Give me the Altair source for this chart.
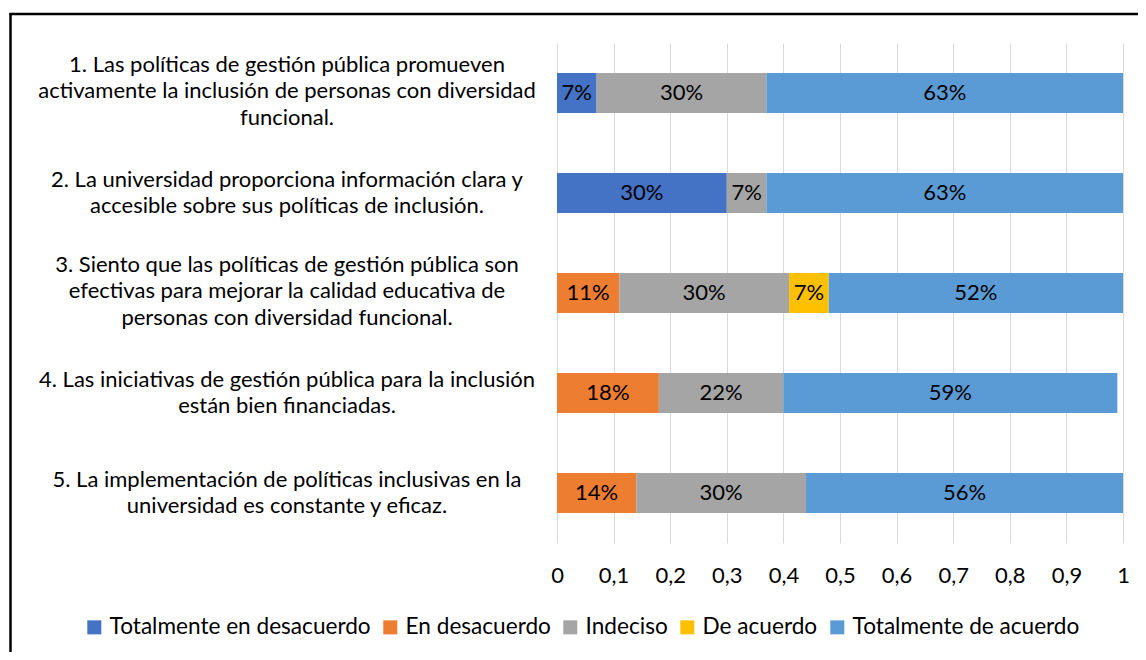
import altair as alt
import pandas as pd

# ---- data ----
preguntas = [
    "1. Las políticas de gestión pública promueven\nactivamente la inclusión de personas con diversidad\nfuncional.",
    "2. La universidad proporciona información clara y\naccesible sobre sus políticas de inclusión.",
    "3. Siento que las políticas de gestión pública son\nefectivas para mejorar la calidad educativa de\npersonas con diversidad funcional.",
    "4. Las iniciativas de gestión pública para la inclusión\nestán bien financiadas.",
    "5. La implementación de políticas inclusivas en la\nuniversidad es constante y eficaz.",
]
series = [
    "Totalmente en desacuerdo",
    "En desacuerdo",
    "Indeciso",
    "De acuerdo",
    "Totalmente de acuerdo",
]
colores = ["#4472C4", "#ED7D31", "#A5A5A5", "#FFC000", "#5B9BD5"]

totalmente_desacuerdo = [0.07, 0.30, 0.00, 0.00, 0.00]
en_desacuerdo = [0.00, 0.00, 0.11, 0.18, 0.14]
indeciso = [0.30, 0.07, 0.30, 0.22, 0.30]
de_acuerdo = [0.00, 0.00, 0.07, 0.00, 0.00]
totalmente_acuerdo = [0.63, 0.63, 0.52, 0.59, 0.56]

x_ticks = [0, 0.1, 0.2, 0.3, 0.4, 0.5, 0.6, 0.7, 0.8, 0.9, 1]

valores = [totalmente_desacuerdo, en_desacuerdo, indeciso, de_acuerdo, totalmente_acuerdo]
rows = []
for s_idx, (nombre, vals) in enumerate(zip(series, valores)):
    for q, v in zip(preguntas, vals):
        if v > 0:
            rows.append({"pregunta": q, "serie": nombre, "valor": v, "orden": s_idx})
df = pd.DataFrame(rows)

cat_df = pd.DataFrame({
    "pregunta": preguntas,
    "nlineas": [p.count("\n") + 1 for p in preguntas],
})

FONT = "Lato"
FS = 22
LH = 26.5

y_scale = alt.Scale(domain=preguntas, paddingInner=0.6, paddingOuter=0.3)
color_scale = alt.Scale(domain=series, range=colores)

base = alt.Chart(df).transform_stack(
    stack="valor",
    groupby=["pregunta"],
    as_=["x0", "x1"],
    sort=[alt.SortField("orden", order="ascending")],
).transform_calculate(mid="(datum.x0 + datum.x1) / 2")

y_enc = alt.Y("pregunta:N", scale=y_scale, axis=None, sort=preguntas)

bars = base.mark_bar().encode(
    y=y_enc,
    x=alt.X(
        "x0:Q",
        title=None,
        scale=alt.Scale(domain=[0, 1], nice=False),
        axis=alt.Axis(
            values=x_ticks,
            labelExpr="replace(format(datum.value, '~g'), '.', ',')",
            grid=True,
            gridColor="#D9D9D9",
            gridWidth=1,
            domain=False,
            ticks=False,
            tickSize=0,
            labelFlush=False,
            labelOverlap=False,
            labelPadding=22,
            labelFont=FONT,
            labelFontSize=FS,
            labelColor="#000000",
        ),
    ),
    x2="x1:Q",
    color=alt.Color(
        "serie:N",
        scale=color_scale,
        legend=alt.Legend(
            orient="none",
            legendX=-474,
            legendY=573,
            direction="horizontal",
            columns=5,
            title=None,
            symbolType="square",
            symbolSize=196,
            symbolStrokeWidth=0,
            labelFont=FONT,
            labelFontSize=22.6,
            labelColor="#000000",
            labelOffset=4,
            columnPadding=8,
            padding=0,
            labelLimit=400,
        ),
    ),
)

value_labels = base.mark_text(font=FONT, fontSize=FS, color="#000000").encode(
    y=y_enc,
    x=alt.X("mid:Q"),
    text=alt.Text("valor:Q", format=".0%"),
)


def cat_layer(n):
    return alt.Chart(cat_df).transform_filter(
        alt.datum.nlineas == n
    ).mark_text(
        font=FONT,
        fontSize=FS,
        lineBreak="\n",
        lineHeight=LH,
        align="center",
        baseline="middle",
        color="#000000",
        dy=-(n - 1) * LH / 2 - (2 if n == 3 else 0),
    ).encode(
        y=y_enc,
        x=alt.value(-270),
        text="pregunta:N",
    )


cat2 = cat_layer(2)
cat3 = cat_layer(3)

dummy = pd.DataFrame({"a": [0]})
border_top = alt.Chart(dummy).mark_rule(color="#000000", strokeWidth=2.5).encode(
    x=alt.value(-547.5), x2=alt.value(600), y=alt.value(-29)
)
border_left = alt.Chart(dummy).mark_rule(color="#000000", strokeWidth=2.5).encode(
    x=alt.value(-546.5), y=alt.value(-30), y2=alt.value(640)
)

chart = (
    alt.layer(bars, value_labels, cat2, cat3, border_top, border_left)
    .properties(
        width=566,
        height=500,
        autosize=alt.AutoSizeParams(type="none"),
        padding={"left": 549, "top": 35, "right": 15, "bottom": 109},
        background="#FFFFFF",
    )
    .configure_view(strokeWidth=0)
)

chart.save("out.html", embed_options={"renderer": "svg", "actions": False})
